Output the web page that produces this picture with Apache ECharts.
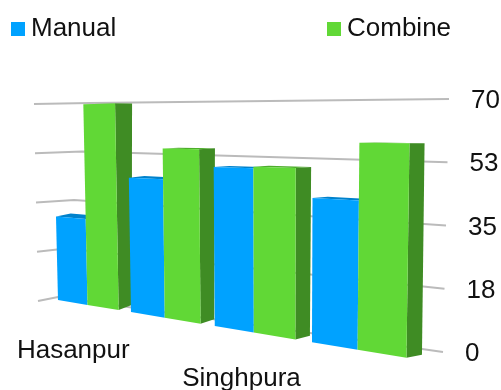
<!DOCTYPE html>
<html>
<head>
<meta charset="utf-8">
<style>html,body{margin:0;padding:0;background:#fff}#chart{width:501px;height:390px}</style>
<script src="https://cdn.jsdelivr.net/npm/echarts@6/dist/echarts.min.js"></script>
</head>
<body>
<div id="chart"></div>
<script>
// Chart values
const categories = ['Hasanpur', '', 'Singhpura', ''];
const manual = [30, 45, 49.5, 41.5];
const combine = [70, 55, 50, 57.5];
const valueTicks = [0, 17.5, 35, 52.5, 70];
const tickLabels = ['0', '18', '35', '53', '70'];

const FONT = '"Liberation Sans", Arial, sans-serif';
const TEXT = '#111111';
const BLUE = { front: '#00A2FF', top: '#0082CC' };
const GREEN = { front: '#61D836', top: '#4DAD2B', side: '#3F8C24' };
const lerp = (a, b, t) => a + (b - a) * t;

// Perspective of the front plane: u runs along the categories, v up the value axis.
function frontPoint(u, v) {
  const x0 = (258.2 * u + 58) / (1 - 0.2578 * u);
  const y0 = 300 + 0.166 * (x0 - 58);
  const h = (195 + 0.19 * (x0 - 58)) * v;
  return [x0 + (x0 - 278) * 0.000109 * h, y0 - h];
}

// Same point pushed back by the depth of a bar.
function backPoint(u, v) {
  const p = frontPoint(u, v);
  const t = Math.min(1, Math.max(0, (p[0] - 118) / 289));
  const bottomDx = lerp(13, 15.5, t), topDx = lerp(17, 15, t);
  const bottomDy = lerp(-5, -3, t), topDy = lerp(0, 0.5, t);
  return [p[0] + lerp(bottomDx, topDx, v), p[1] + lerp(bottomDy, topDy, v)];
}

const polygon = (points, fill, z2) => ({
  type: 'polygon', z2, shape: { points }, style: { fill }
});

// One 3D bar; place 0 is the left half of a category band, place 1 the right half.
function barRenderer(colors, place) {
  return function (params, api) {
    const c = api.coord([api.value(0), api.value(1)]);
    const w = api.getWidth(), h = api.getHeight();
    const band = api.size([1, 0])[0];
    const left = c[0] - band / 2 + band * 0.42 * place;
    const u1 = left / w, u2 = (left + band * 0.42) / w, v = (h - c[1]) / h;
    const order = params.dataIndex * 10 + place * 5;
    const children = [
      polygon([frontPoint(u1, v), frontPoint(u2, v), backPoint(u2, v), backPoint(u1, v)], colors.top, order),
      polygon([frontPoint(u1, 0), frontPoint(u1, v), frontPoint(u2, v), frontPoint(u2, 0)], colors.front, order + 2)
    ];
    if (colors.side) {
      children.push(polygon([frontPoint(u2, 0), frontPoint(u2, v), backPoint(u2, v), backPoint(u2, 0)], colors.side, order + 1));
    }
    return { type: 'group', children };
  };
}

// Wall gridlines with the value labels at their right ends.
function renderTick(params, api) {
  const c = api.coord([0, api.value(0)]);
  const v = (api.getHeight() - c[1]) / api.getHeight();
  const start = [38 - 4 * v, 301 - 197 * v];
  const corner = [58 + 32 * v, 297 - 194 * v];
  const end = [443 + 6 * v, 352 - 253 * v];
  return {
    type: 'group',
    children: [
      {
        type: 'polyline', z2: -10,
        shape: { points: [start, corner, end] },
        style: { stroke: '#BBBBBB', lineWidth: 2, fill: null }
      },
      {
        type: 'text', z2: -10, x: end[0] + 22, y: end[1] + 2,
        style: {
          text: tickLabels[params.dataIndex], font: '26px ' + FONT, fill: TEXT,
          textAlign: 'left', textVerticalAlign: 'middle'
        }
      }
    ]
  };
}

// Category names sit a fixed distance below the foot of their group.
function renderCategory(params, api) {
  const c = api.coord([api.value(0), 0]);
  const p = frontPoint(c[0] / api.getWidth(), 0);
  return {
    type: 'text', x: p[0] - 20, y: p[1] + 45,
    style: {
      text: categories[api.value(0)], font: '26px ' + FONT, fill: TEXT,
      textAlign: 'center', textVerticalAlign: 'middle'
    }
  };
}

const chart = echarts.init(document.getElementById('chart'));
const legendBase = {
  top: 11, itemWidth: 14, itemHeight: 14, icon: 'rect', itemGap: 0, selectedMode: false,
  textStyle: { fontFamily: FONT, fontSize: 26, color: TEXT, padding: [0, 0, 0, 1] }
};
chart.setOption({
  animation: false,
  backgroundColor: '#ffffff',
  grid: { left: 0, right: 0, top: 0, bottom: 0 },
  xAxis: { type: 'category', data: categories, show: false },
  yAxis: { type: 'value', min: 0, max: 70, interval: 17.5, show: false },
  legend: [
    Object.assign({}, legendBase, { left: 6, data: ['Manual'] }),
    Object.assign({}, legendBase, { left: 322, data: ['Combine'] })
  ],
  series: [
    {
      name: 'ticks', type: 'custom', renderItem: renderTick, silent: true,
      data: valueTicks.map(t => [t]), encode: { y: 0 }
    },
    {
      name: 'Manual', type: 'custom', renderItem: barRenderer(BLUE, 0),
      itemStyle: { color: BLUE.front },
      data: manual.map((m, i) => [i, m]), encode: { x: 0, y: 1 }
    },
    {
      name: 'Combine', type: 'custom', renderItem: barRenderer(GREEN, 1),
      itemStyle: { color: GREEN.front },
      data: combine.map((m, i) => [i, m]), encode: { x: 0, y: 1 }
    },
    {
      name: 'categories', type: 'custom', renderItem: renderCategory, silent: true,
      data: categories.map((c, i) => [i]).filter(d => categories[d[0]]), encode: { x: 0 }
    }
  ]
});
</script>
</body>
</html>
